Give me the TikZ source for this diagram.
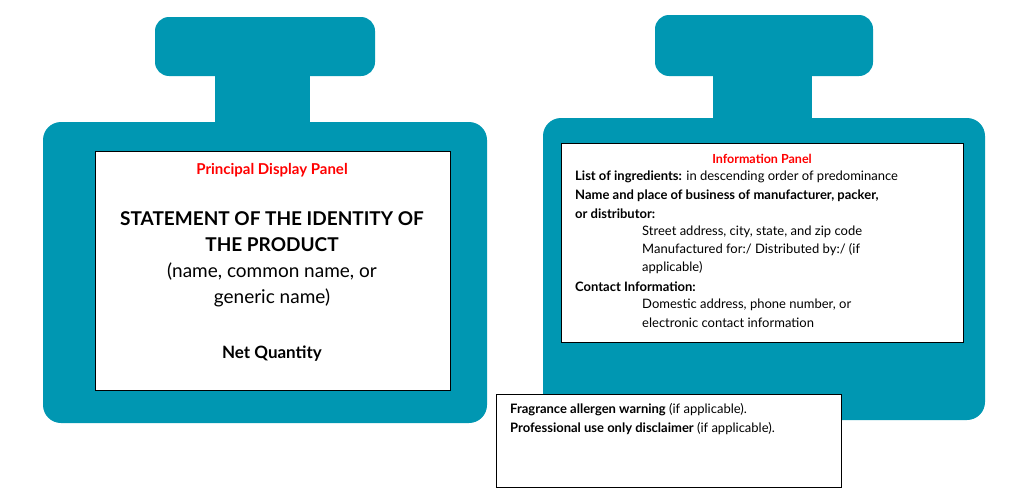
\documentclass[tikz,border=0pt]{standalone}
\usepackage{fontspec}
\setmainfont{Lato}
\definecolor{teal1}{HTML}{0097B2}
\tikzset{bottle/.style={fill=teal1,draw=none,rounded corners=14pt},
panel/.style={fill=white,draw=black,line width=1pt},
t/.style={anchor=west,inner sep=0pt,font=\fontsize{13}{15}\selectfont}}
\begin{document}
\begin{tikzpicture}[x=1pt,y=-1pt]
\useasboundingbox (0,0) rectangle (1024,498);
% left bottle
\fill[bottle] (155,17) rectangle (375,76);
\fill[teal1] (215,70) rectangle (310,128);
\fill[bottle,rounded corners=18pt] (43,122) rectangle (487,423);
\node[panel,minimum width=355pt,minimum height=239pt,anchor=north west] (pdp) at (95,151) {};
\begin{scope}[every node/.style={align=center,inner sep=0pt}]
\node[text=red,font=\bfseries\fontsize{15}{17}\selectfont] (l1) at (272,170) {Principal Display Panel};
\node[font=\bfseries\fontsize{19}{26}\selectfont] (l2) at (272,232) {STATEMENT OF THE IDENTITY OF\\THE PRODUCT};
\node[font=\fontsize{19}{26}\selectfont] (l3) at (272,285) {(name, common name, or\\generic name)};
\node[font=\bfseries\fontsize{17}{20}\selectfont] (l4) at (272,354) {Net Quantity};
\end{scope}
% right bottle
\fill[bottle] (655,15) rectangle (873,76);
\fill[teal1] (713,70) rectangle (812,124);
\fill[bottle,rounded corners=18pt] (543,118) rectangle (985,420);
\node[panel,minimum width=402pt,minimum height=199pt,anchor=north west] (ip) at (561,143) {};
\node[text=red,font=\bfseries\fontsize{12.5}{14}\selectfont,inner sep=0pt] (r0) at (762,159) {Information Panel};
\node[t] (r1) at (575,177) {\textbf{List of ingredients:} in descending order of predominance};
\node[t] (r2) at (575,196) {\textbf{Name and place of business of manufacturer, packer,}};
\node[t] (r3) at (575,214) {\textbf{or distributor:}};
\node[t] (r4) at (642,232) {Street address, city, state, and zip code};
\node[t] (r5) at (642,250) {Manufactured for:/ Distributed by:/ (if};
\node[t] (r6) at (642,268) {applicable)};
\node[t] (r7) at (575,287) {\textbf{Contact Information:}};
\node[t] (r8) at (642,305) {Domestic address, phone number, or};
\node[t] (r9) at (642,323) {electronic contact information};
% bottom box
\node[panel,minimum width=345pt,minimum height=93pt,anchor=north west] (bb) at (496,394) {};
\node[t] (b1) at (510,410) {\textbf{Fragrance allergen warning} (if applicable).};
\node[t] (b2) at (510,429) {\textbf{Professional use only disclaimer} (if applicable).};
\end{tikzpicture}
\end{document}
